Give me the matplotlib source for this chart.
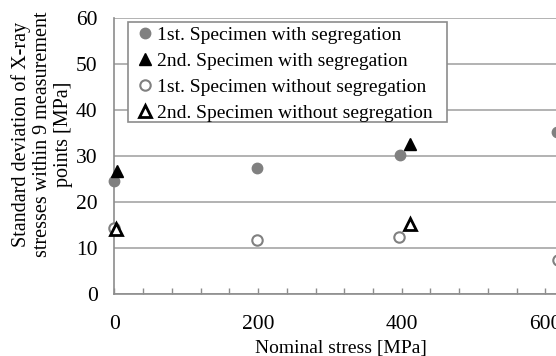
import numpy as np
import matplotlib
matplotlib.use("Agg")
import matplotlib.pyplot as plt
from matplotlib.patches import Rectangle
from matplotlib.ticker import MultipleLocator

# nominal stress [MPa] and standard deviation [MPa] for each series
stress_seg1 = [0, 198, 398, 616]
sd_seg1 = [24.7, 27.4, 30.3, 35.2]
stress_seg2 = [4, 411]
sd_seg2 = [26.7, 32.6]
stress_noseg1 = [0, 199, 396, 617]
sd_noseg1 = [14.3, 11.7, 12.4, 7.4]
stress_noseg2 = [2, 411]
sd_noseg2 = [14.1, 15.3]

labels = ["1st. Specimen with segregation",
          "2nd. Specimen with segregation",
          "1st. Specimen without segregation",
          "2nd. Specimen without segregation"]

plt.rcParams['font.family'] = ['Liberation Serif', 'DejaVu Serif']

W, H = 556, 356
fig = plt.figure(figsize=(W / 100, H / 100), dpi=100)
ax = fig.add_axes([0.2056, 0.1733, 0.8142, 0.7761])

gray = "#808080"
edge = "#8c8c8c"
ax.plot(stress_seg1, sd_seg1, "o", color=gray, ms=7.5, mec=gray, label=labels[0], clip_on=False, zorder=3)
ax.plot(stress_seg2, sd_seg2, "^", color="black", ms=8.5, label=labels[1], clip_on=False, zorder=4)
ax.plot(stress_noseg1, sd_noseg1, "o", mfc="white", mec=gray, mew=1.5, ms=7.5, label=labels[2], clip_on=False, zorder=3)
ax.plot(stress_noseg2, sd_noseg2, "^", mfc="white", mec="black", mew=2, ms=8, label=labels[3], clip_on=False, zorder=4)

ax.set_xlim(0, 630)
ax.set_ylim(0, 60)
ax.xaxis.set_major_locator(MultipleLocator(200))
ax.xaxis.set_minor_locator(MultipleLocator(40))
ax.yaxis.set_major_locator(MultipleLocator(10))

ax.grid(axis="y", color="#a6a6a6", lw=1.2)
ax.set_axisbelow(True)
for side in ["top", "right"]:
    ax.spines[side].set_visible(False)
for side in ["left", "bottom"]:
    ax.spines[side].set_color(edge)
    ax.spines[side].set_linewidth(1.2)

ax.tick_params(axis="x", which="both", direction="in", color=edge, width=1, length=4,
               labelsize=15.5, pad=15)
ax.tick_params(axis="y", length=0, labelsize=15.5, pad=12)

ax.set_xlabel("Nominal stress [MPa]", fontsize=14)
ax.xaxis.set_label_coords(0.5, -0.165)
ax.set_ylabel("Standard deviation of X-ray\nstresses within 9 measurement\npoints [MPa]",
              fontsize=14.5, linespacing=1.15, va="center")
ax.yaxis.set_label_coords(-0.16, 0.58)

# legend box drawn separately so it can carry extra room on the right
box = Rectangle((128 / W, 1 - 122 / H), 319 / W, 100 / H, transform=fig.transFigure,
                facecolor="white", edgecolor=edge, lw=1.2, zorder=5, clip_on=False)
ax.add_patch(box)
leg = ax.legend(loc="upper left", bbox_to_anchor=(135.5 / W, 1 - 26.5 / H),
                bbox_transform=fig.transFigure, fontsize=14,
                handlelength=1.0, handletextpad=0.12, borderpad=0, labelspacing=0.43,
                frameon=False, borderaxespad=0)
leg.set_zorder(6)

fig.savefig("out.png", dpi=100)
